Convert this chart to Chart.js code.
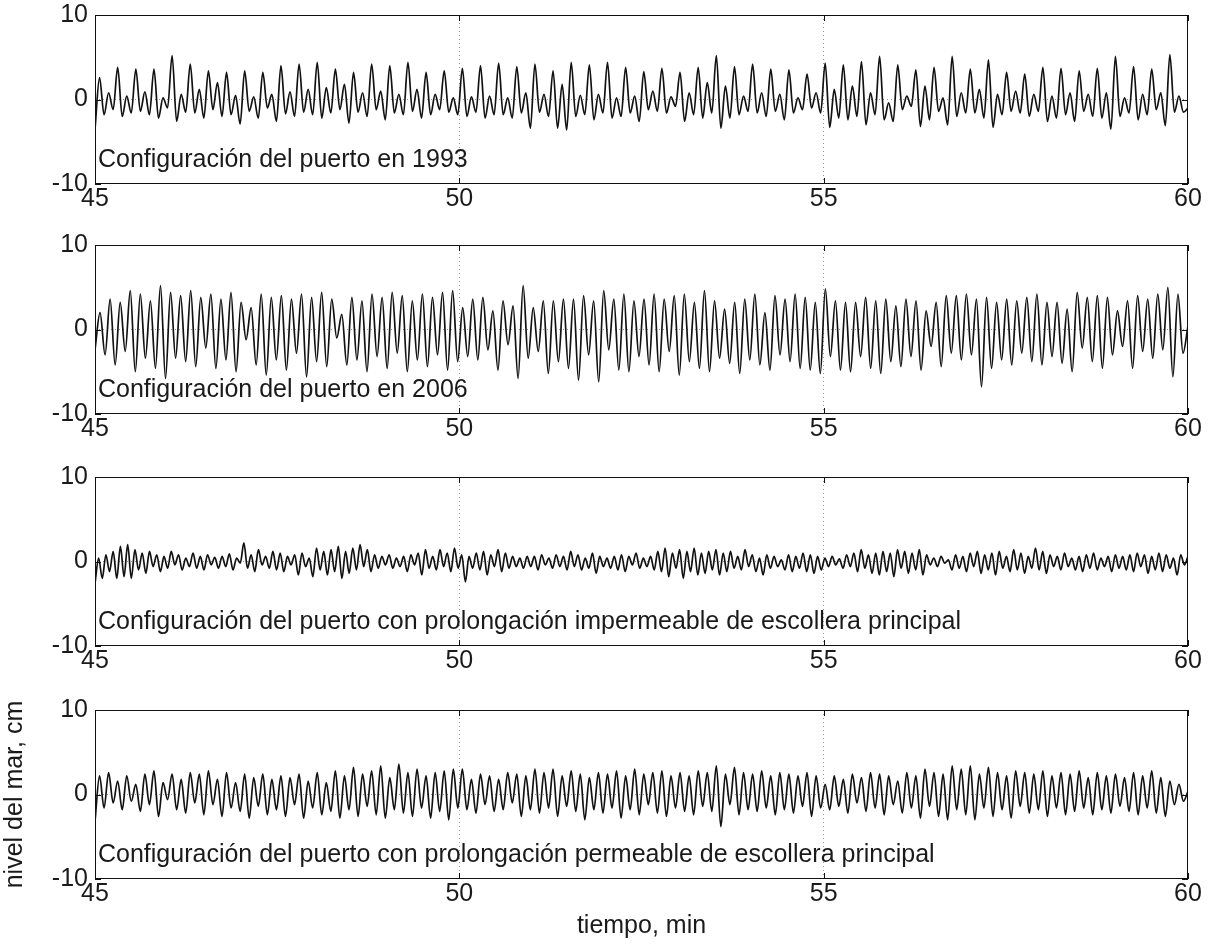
<!DOCTYPE html>
<html>
<head>
<meta charset="utf-8">
<script src="https://cdn.jsdelivr.net/npm/chart.js@4/dist/chart.umd.min.js"></script>
<style>
  body { margin: 0; background: #fff; }
  canvas { position: absolute; left: 0; }
</style>
</head>
<body>
<canvas id="p1"></canvas>
<canvas id="p2"></canvas>
<canvas id="p3"></canvas>
<canvas id="p4"></canvas>
<script>
// eje común de los cuatro registros
const xMin = 45, xMax = 60;
const xTicks = [45, 50, 55, 60];
const yTicks = [-10, 0, 10];

const panelLabels = [
  'Configuración del puerto en 1993',
  'Configuración del puerto en 2006',
  'Configuración del puerto con prolongación impermeable de escollera principal',
  'Configuración del puerto con prolongación permeable de escollera principal'
];

// 1993: crestas, senos, repuntes y senos secundarios (cm)
const p1Peaks = [2.6,3.8,3.6,3.6,5.2,4.2,3.4,3.2,3.4,3.2,4.0,4.2,4.4,3.6,3.2,4.2,4.0,4.4,3.2,3.4,
  3.7,4.0,4.3,3.9,4.2,3.4,4.4,4.1,4.4,3.8,3.3,3.7,3.2,3.8,5.2,3.9,4.2,3.6,3.5,3.0,
  4.3,4.1,4.5,5.1,4.1,3.5,3.8,5.1,3.6,4.7,3.2,3.0,3.8,3.7,3.4,3.7,5.1,3.9,3.6,5.3];
const p1Dips = [-1.8,-2.0,-1.4,-2.2,-2.6,-1.6,-1.2,-1.8,-1.4,-1.0,-1.7,-1.5,-2.2,-1.2,-1.5,-1.2,-1.6,-1.4,-1.8,-1.5,
  -2.0,-2.2,-1.8,-1.6,-1.5,-3.4,-2.0,-2.4,-2.2,-1.6,-1.2,-1.6,-2.6,-2.2,-3.4,-1.8,-1.6,-1.4,-1.6,-1.0,
  -3.3,-2.4,-3.0,-2.4,-1.2,-3.2,-1.4,-2.0,-1.6,-3.3,-1.4,-2.0,-2.6,-1.8,-1.4,-2.2,-2.0,-2.4,-1.2,-1.5];
const p1Bumps = [0.8,0.4,0.9,0.2,0.6,1.2,2.0,0.5,0.3,0.6,0.9,1.2,1.4,1.8,0.8,1.0,0.6,1.2,0.6,0.2,
  0.3,0.4,0.2,0.8,0.6,1.8,0.5,0.6,0.2,0.4,1.0,0.3,0.8,2.0,1.6,0.4,0.8,0.6,0.2,0.8,
  1.2,1.6,0.8,-0.4,0.4,1.6,0.2,0.8,1.2,0.6,1.0,0.6,0.4,0.8,0.6,0.8,0.2,0.6,0.8,0.4];
const p1Lows = [-1.2,-1.6,-1.8,-1.0,-1.5,-2.2,-2.0,-2.9,-2.2,-2.6,-2.0,-1.8,-1.6,-2.8,-2.0,-2.4,-1.8,-2.2,-1.2,-1.8,
  -1.5,-1.8,-2.2,-3.4,-2.0,-3.6,-1.8,-1.6,-2.0,-2.6,-1.4,-0.8,-1.8,-1.6,-2.2,-1.4,-2.0,-2.4,-1.2,-1.6,
  -2.2,-2.0,-1.8,-2.6,-0.8,-2.4,-3.0,-1.6,-2.2,-1.8,-1.6,-1.4,-2.2,-2.6,-2.0,-3.5,-1.6,-1.8,-3.1,-1.5];

// 2006
const p2Peaks = [2.0,3.6,3.2,4.6,4.2,3.4,5.2,4.4,4.0,4.6,3.8,4.2,3.6,4.4,3.2,2.6,4.2,3.8,4.0,3.6,4.2,3.8,4.4,3.6,1.8,3.8,3.4,4.2,3.8,4.4,4.0,3.4,4.2,3.8,4.4,4.6,
  2.6,3.6,3.8,2.2,3.4,2.8,5.2,2.6,3.4,3.4,3.6,3.6,4.0,3.4,4.6,3.6,4.2,3.4,3.6,4.2,3.6,4.0,4.2,3.2,4.6,3.4,2.4,3.2,3.6,4.2,2.0,4.0,3.6,4.2,3.8,3.2,
  4.8,3.4,3.2,3.2,3.8,3.4,3.6,2.8,3.6,3.4,2.2,3.2,4.0,4.0,4.2,3.6,3.8,3.2,3.6,3.4,3.8,4.2,3.2,3.2,2.4,4.4,3.8,4.0,3.8,2.2,3.4,4.0,3.6,4.2,5.0,4.2];
const p2Troughs = [-3.0,-4.2,-2.6,-5.0,-3.4,-4.6,-5.8,-3.4,-3.8,-4.4,-2.2,-4.6,-3.6,-5.0,-1.2,-4.2,-5.4,-3.6,-4.8,-2.8,-5.6,-3.8,-4.4,-1.0,-4.2,-3.6,-5.0,-3.2,-4.6,-2.8,-5.0,-3.6,-4.4,-3.0,-4.8,-3.8,
  -3.2,-3.6,-2.4,-4.8,-1.8,-5.8,-3.4,-2.6,-5.2,-3.8,-4.6,-6.0,-3.0,-6.2,-2.4,-4.8,-5.0,-3.2,-4.2,-5.0,-2.6,-5.4,-3.8,-4.6,-5.0,-3.4,-4.0,-5.2,-3.6,-4.2,-4.8,-3.0,-3.8,-4.6,-4.8,-5.2,
  -3.2,-4.8,-5.0,-3.2,-4.6,-5.2,-3.8,-4.4,-3.2,-4.8,-2.0,-4.4,-2.8,-3.6,-3.0,-6.8,-4.6,-3.6,-4.2,-2.8,-3.8,-4.2,-3.2,-4.0,-5.0,-2.2,-3.8,-4.6,-3.0,-2.0,-4.6,-2.6,-3.4,-2.4,-5.6,-2.8];

// prolongación impermeable
const p3Peaks = [0.4,0.8,1.2,1.8,2.0,1.4,1.0,1.2,0.8,0.6,1.2,0.8,0.4,1.0,0.6,0.8,0.5,0.6,0.9,0.4,
  2.2,0.8,1.4,0.6,1.2,1.0,0.6,0.8,1.0,0.4,1.6,1.2,1.4,1.8,1.2,1.6,2.0,1.4,0.8,0.6,0.8,0.4,0.6,0.8,1.0,1.4,0.6,1.4,1.0,1.6,
  0.8,0.6,1.0,1.2,0.8,1.4,1.0,0.6,0.4,0.6,0.6,0.8,0.4,0.8,0.6,1.2,0.8,0.4,1.0,0.6,
  0.4,0.6,0.8,0.6,1.0,0.4,0.6,1.2,1.6,1.0,1.4,1.2,1.6,1.0,1.2,1.4,1.0,1.2,0.6,1.4,0.8,0.4,0.8,0.6,0.2,0.8,0.6,1.0,0.8,0.6,
  0.4,0.6,0.3,0.8,1.0,1.4,0.8,1.0,1.2,1.0,1.4,1.2,1.0,1.4,0.8,0.4,0.6,0.2,0.8,0.6,
  1.0,1.2,0.8,1.0,1.2,0.6,1.4,1.0,0.6,1.6,1.2,0.8,0.6,1.0,0.4,0.6,0.8,1.0,0.4,0.6,0.8,0.6,0.8,1.0,0.8,0.6,1.0,0.8,0.4,0.8];
const p3Troughs = [-2.0,-1.2,-2.0,-1.8,-2.0,-1.0,-1.4,-0.6,-1.2,-0.8,-0.4,-1.0,-0.6,-0.8,-1.0,-0.4,-0.8,-0.6,-1.0,-0.2,
  -0.8,-1.2,-0.4,-0.8,-1.0,-1.2,-0.4,-1.6,-0.6,-1.8,-1.0,-1.6,-1.2,-2.0,-1.4,-1.0,-0.6,-1.2,-0.8,-0.4,-0.8,-0.6,-1.2,-0.4,-1.6,-0.8,-1.0,-0.6,-1.2,-0.8,
  -2.4,-0.8,-1.0,-1.6,-0.6,-1.2,-0.8,-0.6,-0.8,-0.6,-1.0,-0.4,-0.8,-0.6,-1.0,-0.6,-1.0,-0.8,-1.4,-0.6,
  -0.8,-1.0,-1.2,-0.4,-0.8,-0.6,-1.0,-1.2,-1.8,-0.8,-2.0,-1.2,-1.6,-1.4,-1.0,-1.6,-1.2,-0.8,-1.0,-0.6,-1.2,-1.6,-0.8,-0.6,-1.0,-1.2,-0.8,-1.2,-1.4,-1.0,
  -0.6,-0.4,-0.8,-0.6,-1.2,-0.8,-1.4,-1.6,-1.2,-1.8,-0.8,-1.4,-1.0,-1.6,-0.4,-0.6,-0.2,-1.0,-0.8,-1.2,
  -0.6,-1.4,-1.0,-1.6,-0.8,-1.2,-1.0,-1.4,-0.8,-1.0,-1.4,-0.6,-1.0,-0.6,-1.0,-1.2,-0.8,-1.0,-0.6,-1.2,-0.8,-1.0,-1.2,-0.6,-1.4,-1.0,-1.2,-0.8,-1.6,-0.4];

// prolongación permeable
const p4Peaks = [2.2,2.6,1.6,2.2,1.2,2.4,2.8,1.4,2.4,1.8,2.6,2.4,2.8,1.8,2.6,1.4,2.4,2.0,2.4,1.8,
  2.2,2.0,2.4,1.6,2.6,1.4,2.8,2.2,3.2,2.4,2.8,3.4,2.0,3.6,2.6,3.0,2.2,2.6,2.8,3.0,
  3.0,1.8,2.4,2.2,1.8,2.6,2.4,2.2,3.0,2.6,3.0,2.2,2.8,2.4,2.0,2.6,2.4,2.8,2.2,3.0,
  2.4,2.6,2.8,2.2,2.6,2.2,2.8,2.6,3.4,2.4,3.2,2.6,2.4,2.8,2.2,2.6,2.4,2.2,2.6,2.2,
  1.2,2.2,1.8,2.4,2.0,2.6,2.4,2.2,1.6,2.6,2.2,3.0,2.6,2.4,3.4,3.0,3.4,2.4,3.2,2.6,
  2.2,2.8,2.6,2.4,2.8,2.2,2.6,2.4,2.8,2.0,2.6,2.2,2.4,2.0,2.6,2.2,2.8,2.0,1.6,1.2];
const p4Troughs = [-1.6,-1.0,-1.8,-0.8,-2.0,-1.2,-2.6,-0.6,-1.8,-2.2,-1.0,-2.4,-1.2,-2.6,-1.6,-2.0,-2.8,-1.4,-2.4,-1.8,
  -2.6,-1.2,-2.8,-1.6,-2.4,-2.0,-2.8,-1.8,-2.6,-1.4,-2.4,-2.8,-1.8,-2.2,-2.6,-1.6,-2.8,-2.0,-3.0,-1.6,
  -1.8,-2.2,-1.2,-2.0,-1.8,-1.0,-2.6,-1.8,-2.2,-1.6,-2.6,-1.4,-2.0,-3.0,-1.8,-2.2,-1.6,-2.8,-1.8,-2.4,
  -1.2,-2.2,-2.6,-1.6,-2.0,-2.4,-1.4,-2.0,-3.8,-1.2,-2.4,-1.8,-2.0,-1.6,-2.4,-1.8,-2.2,-1.4,-2.6,-1.6,
  -1.8,-1.4,-2.2,-1.0,-2.0,-1.6,-2.4,-1.2,-2.2,-1.6,-2.8,-1.4,-2.6,-3.0,-1.8,-2.4,-3.0,-1.6,-2.6,-1.8,
  -2.8,-1.4,-2.2,-1.8,-2.6,-1.6,-2.4,-2.0,-1.6,-2.4,-1.8,-2.2,-1.4,-2.0,-2.4,-1.6,-2.2,-2.6,-1.2,-0.8];

// nivel al inicio y al final de cada registro
const startLevels = [-3.5, -2.4, -2.6, -3.2];
const endLevels = [-1.0, 0.4, 0.6, 0.4];

// cajas de los paneles en la página (borde superior y alto, px)
const panelTops = [15, 245, 477, 710];
const plotHeight = 169;
const padTop = 30;
const fontSize = 25;

Chart.defaults.font.family = "'Liberation Sans', Arial, Helvetica, sans-serif";
Chart.defaults.font.size = fontSize;
Chart.defaults.color = '#1a1a1a';

// alterna los extremos de cada lista: cresta, seno, ...
function extremes(start, lists, end) {
  const out = [start];
  for (let i = 0; i < lists[0].length; i++) {
    lists.forEach(l => out.push(l[i]));
  }
  out.push(end);
  return out;
}

const boxPlugin = {
  id: 'box',
  afterDraw(chart) {
    const {ctx, chartArea: a, scales} = chart;
    ctx.save();
    ctx.strokeStyle = '#111';
    ctx.lineWidth = 1;
    ctx.strokeRect(a.left + 0.5, a.top + 0.5, a.right - a.left - 1, a.bottom - a.top - 1);
    // marcas hacia dentro
    ctx.beginPath();
    xTicks.forEach(v => {
      const x = Math.round(scales.x.getPixelForValue(v)) + 0.5;
      ctx.moveTo(x, a.bottom); ctx.lineTo(x, a.bottom - 6);
      ctx.moveTo(x, a.top); ctx.lineTo(x, a.top + 6);
    });
    yTicks.forEach(v => {
      const y = Math.round(scales.y.getPixelForValue(v)) + 0.5;
      ctx.moveTo(a.left, y); ctx.lineTo(a.left + 6, y);
      ctx.moveTo(a.right, y); ctx.lineTo(a.right - 6, y);
    });
    ctx.stroke();
    ctx.restore();
  }
};

const labelPlugin = {
  id: 'panelLabel',
  afterDatasetsDraw(chart, args, opts) {
    const {ctx, chartArea: a} = chart;
    ctx.save();
    ctx.font = fontSize + "px 'Liberation Sans', Arial, sans-serif";
    ctx.fillStyle = '#1a1a1a';
    ctx.textBaseline = 'middle';
    ctx.fillText(opts.text, a.left + 3, a.bottom - 24);
    ctx.restore();
  }
};

function makePanel(idx, values) {
  const isLast = idx === 3;
  const canvas = document.getElementById('p' + (idx + 1));
  const xHeight = isLast ? 64 : 36;
  const h = padTop + plotHeight + xHeight;
  canvas.width = 1215;
  canvas.height = h;
  canvas.style.top = (panelTops[idx] - padTop) + 'px';

  const n = values.length;
  const data = values.map((v, i) => ({x: xMin + (xMax - xMin) * i / (n - 1), y: v}));
  const dotted = v => (v === 50 || v === 55 || v === 0) ? '#9a9a9a' : 'rgba(0,0,0,0)';

  new Chart(canvas, {
    type: 'line',
    data: {
      datasets: [{
        data: data,
        borderColor: '#111',
        borderWidth: 1.7,
        pointRadius: 0,
        cubicInterpolationMode: 'monotone',
        fill: false
      }]
    },
    options: {
      responsive: false,
      animation: false,
      layout: {padding: {top: padTop, right: 27, left: 0, bottom: 0}},
      plugins: {
        legend: {display: false},
        tooltip: {enabled: false},
        panelLabel: {text: panelLabels[idx]}
      },
      scales: {
        x: {
          type: 'linear',
          min: xMin,
          max: xMax,
          afterBuildTicks: s => { s.ticks = xTicks.map(v => ({value: v})); },
          afterFit: s => { s.height = xHeight; },
          ticks: {padding: 0, maxRotation: 0, autoSkip: false},
          grid: {drawTicks: false, color: c => dotted(c.tick && c.tick.value), lineWidth: 1},
          border: {display: false, dash: [1, 3]},
          title: {display: isLast, text: 'tiempo, min', padding: {top: 2, bottom: 2}}
        },
        y: {
          min: -10,
          max: 10,
          afterBuildTicks: s => { s.ticks = yTicks.map(v => ({value: v})); },
          afterFit: s => { s.width = 95; },
          ticks: {padding: 7},
          grid: {drawTicks: false, color: c => dotted(c.tick && c.tick.value), lineWidth: 1},
          border: {display: false, dash: [1, 3]},
          title: {display: isLast, text: 'nivel del mar, cm', padding: {top: 0, bottom: 0}}
        }
      }
    },
    plugins: [boxPlugin, labelPlugin]
  });
}

makePanel(0, extremes(startLevels[0], [p1Peaks, p1Dips, p1Bumps, p1Lows], endLevels[0]));
makePanel(1, extremes(startLevels[1], [p2Peaks, p2Troughs], endLevels[1]));
makePanel(2, extremes(startLevels[2], [p3Peaks, p3Troughs], endLevels[2]));
makePanel(3, extremes(startLevels[3], [p4Peaks, p4Troughs], endLevels[3]));
</script>
</body>
</html>
